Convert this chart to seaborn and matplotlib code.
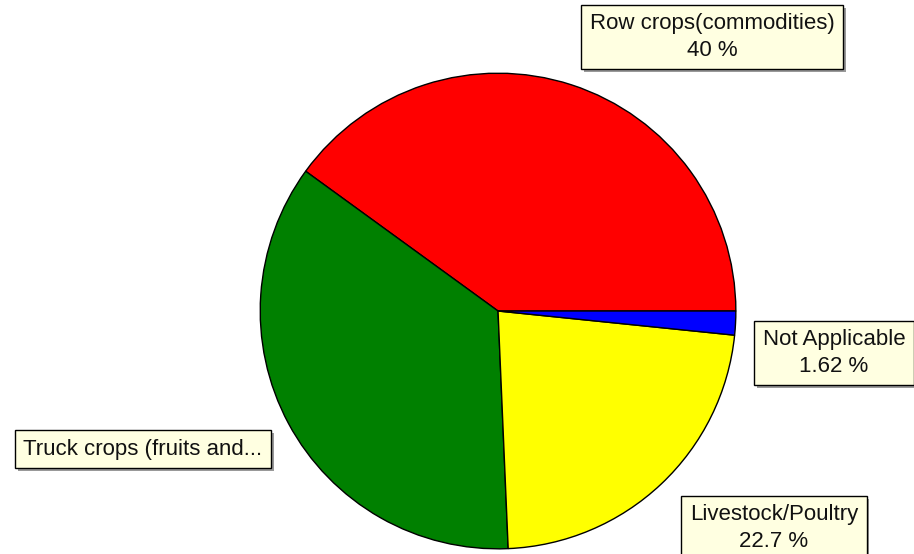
import matplotlib
matplotlib.use("Agg")
import matplotlib.pyplot as plt
import matplotlib.patheffects as pe
import seaborn as sns

# Data
categories = ["Row crops(commodities)", "Truck crops (fruits and...", "Livestock/Poultry", "Not Applicable"]
shares = [40.0, 35.68, 22.7, 1.62]
label_texts = ["Row crops(commodities)\n40 %", "Truck crops (fruits and...",
               "Livestock/Poultry\n22.7 %", "Not Applicable\n1.62 %"]
colors = ["#FF0000", "#008000", "#FFFF00", "#0000FF"]

sns.set_theme(style="white")
plt.rcParams['font.family'] = ['Liberation Sans', 'DejaVu Sans']

fig = plt.figure(figsize=(9.14, 5.54), dpi=100)
ax = fig.add_axes([0.2834, 0.0072, 0.523, 0.8628])
ax.pie(shares, colors=colors, startangle=0, counterclock=True,
       wedgeprops=dict(edgecolor="black", linewidth=1))
ax.set_xlim(-1.005, 1.005)
ax.set_ylim(-1.005, 1.005)
ax.set_aspect("equal")
ax.axis("off")

# label boxes (figure pixel centres)
positions = [(712, 37), (143, 449), (774, 528), (834, 353)]
for txt, (px, py) in zip(label_texts, positions):
    t = fig.text(px / 914, 1 - py / 554, txt, ha="center", va="center",
                 fontsize=16, linespacing=1.35, color="#111111",
                 bbox=dict(boxstyle="square,pad=0.38", fc="#FFFFE1", ec="black", lw=1))
    t.get_bbox_patch().set_path_effects([
        pe.SimplePatchShadow(offset=(2, -2), shadow_rgbFace="gray", alpha=0.8),
        pe.Normal()])

fig.savefig("out.png", dpi=100)
